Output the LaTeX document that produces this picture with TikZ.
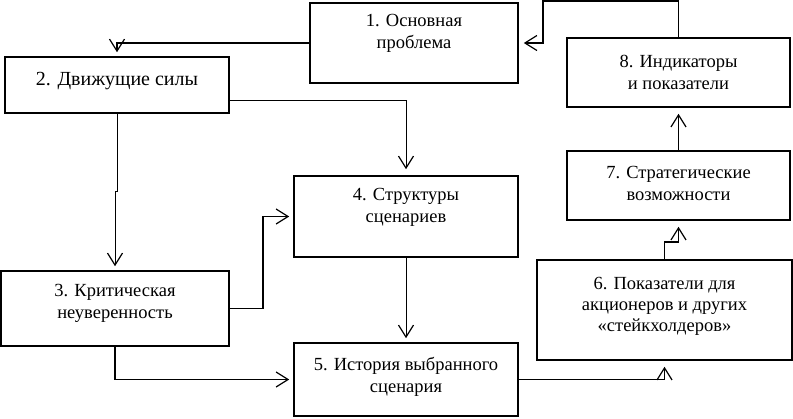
\documentclass[tikz,border=0pt]{standalone}
\usepackage{fontspec}
\setmainfont{Liberation Serif}
\usetikzlibrary{arrows.meta,calc}
\begin{document}
\begin{tikzpicture}[x=1pt,y=-1pt,
  box/.style={draw,line width=1.6pt,inner sep=0pt},
  lbl/.style={anchor=north,align=center,inner sep=0pt,
    font=\fontsize{18.5pt}{22pt}\selectfont},
  tip/.style={-{Straight Barb[length=12pt,width=15pt,line width=1.2pt]}},
  arrthick/.style={tip,line width=1.5pt},
  arrthin/.style={tip,line width=0.9pt}]
\useasboundingbox[fill=white] (0,0) rectangle (793,418);
% boxes
\node[box,minimum width=208pt,minimum height=80pt] (b1) at (414,43) {};
\node[box,minimum width=224pt,minimum height=56pt] (b2) at (117,85) {};
\node[box,minimum width=228pt,minimum height=75pt] (b3) at (115,308.5) {};
\node[box,minimum width=224pt,minimum height=81pt] (b4) at (406,216.5) {};
\node[box,minimum width=224pt,minimum height=73pt] (b5) at (406,379.5) {};
\node[box,minimum width=255pt,minimum height=100pt] (b6) at (664.5,310) {};
\node[box,minimum width=223pt,minimum height=69pt] (b7) at (678.5,185.5) {};
\node[box,minimum width=223pt,minimum height=69pt] (b8) at (678.5,72.5) {};
% labels
\node[lbl,yshift=-12pt] (t1) at (b1.north) {1. Основная\\проблема};
\node[lbl,yshift=-16pt,font=\fontsize{20pt}{24pt}\selectfont] (t2) at (b2.north) {2. Движущие силы};
\node[lbl,yshift=-14pt] (t3) at (b3.north) {3. Критическая\\неуверенность};
\node[lbl,yshift=-13pt] (t4) at (b4.north) {4. Структуры\\сценариев};
\node[lbl,yshift=-15pt] (t5) at (b5.north) {5. История выбранного\\сценария};
\node[lbl,yshift=-18pt,font=\fontsize{18.5pt}{21pt}\selectfont] (t6) at (b6.north) {6. Показатели для\\акционеров и других\\«стейкхолдеров»};
\node[lbl,yshift=-16pt] (t7) at (b7.north) {7. Стратегические\\возможности};
\node[lbl,yshift=-18pt] (t8) at (b8.north) {8. Индикаторы\\и показатели};
% connectors
\coordinate (c81) at (543,1);
\draw[arrthick,shorten >=4pt] (b1.west) -| (b2.north);
\draw[arrthin,shorten >=6pt] ([yshift=-15pt]b2.east) -| (b4.north);
\draw[arrthin,shorten >=4pt] (b2.south) |- ([yshift=79pt]b3.north) -- (b3.north);
\draw[arrthick,shorten >=4pt] (b3.east) -- ([xshift=33pt]b3.east) |- (b4.west);
\draw[arrthick,shorten >=4pt] (b3.south) |- (b5.west);
\draw[arrthin,shorten >=4pt] (b4.south) -- (b5.north);
\draw[arrthick,shorten >=6pt] (b5.east) -| (b6.south);
\draw[arrthick,shorten >=6pt] (b6.north) |- ([yshift=-21pt]b7.south) -- (b7.south);
\draw[arrthin,shorten >=6pt] (b7.north) -- (b8.south);
\draw[arrthick,shorten >=5pt] (b8.north) |- (c81) |- (b1.east);
\end{tikzpicture}
\end{document}
